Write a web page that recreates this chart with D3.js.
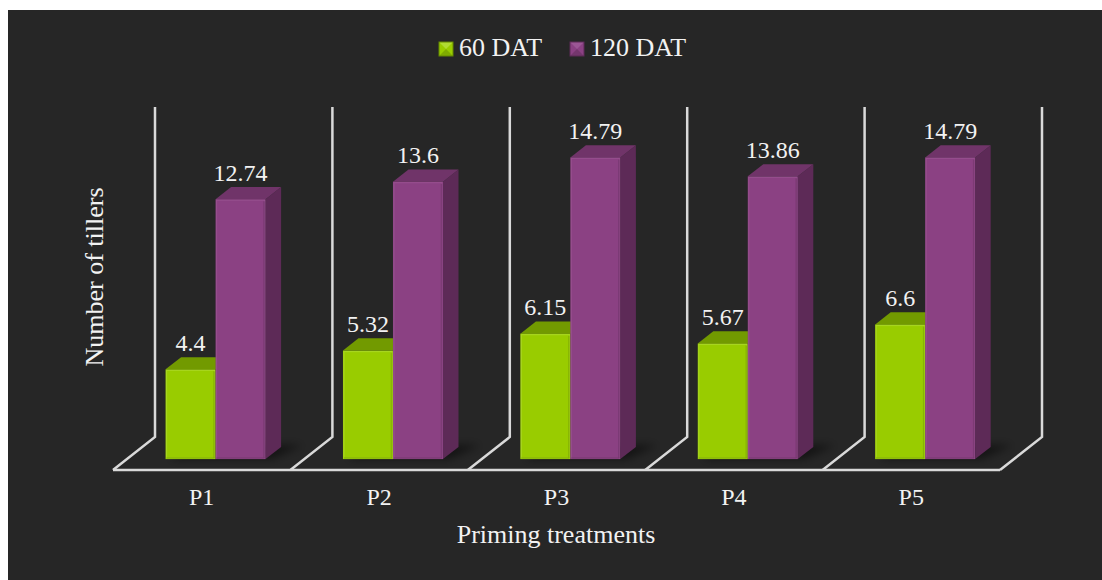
<!DOCTYPE html>
<html>
<head>
<meta charset="utf-8">
<script src="https://cdn.jsdelivr.net/npm/d3@7/dist/d3.min.js"></script>
<style>
  html, body { margin: 0; padding: 0; background: #ffffff; }
  svg { display: block; }
  text { font-family: "Liberation Serif", "Times New Roman", serif; fill: #f2f2f2; }
</style>
</head>
<body>
<svg id="chart" width="1102" height="580"></svg>
<script>
// Number of tillers per priming treatment at two sampling dates
const categories = ["P1", "P2", "P3", "P4", "P5"];
const seriesNames = ["60 DAT", "120 DAT"];
const dat60 = [4.4, 5.32, 6.15, 5.67, 6.6];
const dat120 = [12.74, 13.6, 14.79, 13.86, 14.79];
const yTicks = [0, 4, 8, 12, 16];

const seriesValues = [dat60, dat120];

// face colours per series: front, top, side
const palette = [
  { front: "#99cc00", top: "#729a00", side: "#658800", rim: "#b0dc33", dark: "#7fab00" },
  { front: "#8b4183", top: "#703469", side: "#5d2a57", rim: "#9c5695", dark: "#74366d" }
];

const svg = d3.select("#chart");

// dark panel
svg.append("rect").attr("x", 8).attr("y", 10).attr("width", 1094).attr("height", 570).attr("fill", "#262626");

// floor geometry (front edge of floor and the depth vector to the back wall)
const floorLeft = 113, floorRight = 1000, floorY = 470;
const depth = { dx: 42, dy: -33 };
const wallHeight = 330;
const barFront = 0.33, barBack = 0.70;  // depth fractions occupied by the bars

const x0 = d3.scaleBand().domain(categories).range([floorLeft, floorRight]).padding(0);
const groupW = 100;
const x1 = d3.scaleBand().domain(seriesNames)
  .range([(x0.bandwidth() - groupW) / 2, (x0.bandwidth() + groupW) / 2]).padding(0);
const y = d3.scaleLinear().domain([0, d3.max(yTicks)]).range([0, 326.4]);

const defs = svg.append("defs");
defs.append("filter").attr("id", "soft").attr("x", "-50%").attr("y", "-50%").attr("width", "200%").attr("height", "200%")
  .append("feGaussianBlur").attr("stdDeviation", 4);

// back wall dividers and floor edges
const lineColor = "#d9d9d9";
const walls = svg.append("g").attr("stroke", lineColor).attr("stroke-width", 2.5).attr("fill", "none");
const bounds = categories.map(c => x0(c)).concat([floorRight]);
bounds.forEach(fx => {
  const bx = fx + depth.dx, by = floorY + depth.dy;
  walls.append("path").attr("d", `M${bx},${by - wallHeight}L${bx},${by}L${fx},${floorY}`);
});
walls.append("line").attr("x1", floorLeft).attr("x2", floorRight).attr("y1", floorY).attr("y2", floorY);

// bar footprints helpers
const fdx = depth.dx * barFront, fdy = depth.dy * barFront;
const bdx = depth.dx * barBack, bdy = depth.dy * barBack;
const sdx = bdx - fdx, sdy = bdy - fdy;

// soft shadows on the floor
const shadows = svg.append("g").attr("filter", "url(#soft)");
categories.forEach((c, i) => {
  const left = x0(c) + x1.range()[0] + fdx;
  const right = left + groupW;
  const base = floorY + fdy;
  shadows.append("path")
    .attr("d", `M${left + 4},${base}L${right + 6},${base}L${right + sdx + 22},${base + sdy - 2}L${left + sdx + 10},${base + sdy - 2}Z`)
    .attr("fill", "#000").attr("opacity", 0.5);
});

// bars
const bars = svg.append("g");
categories.forEach((c, i) => {
  seriesNames.forEach((s, k) => {
    const v = seriesValues[k][i];
    const col = palette[k];
    const xl = x0(c) + x1(s) + fdx;
    const w = x1.bandwidth();
    const base = floorY + fdy;
    const top = base - y(v);
    const g = bars.append("g");
    // side face
    g.append("path")
      .attr("d", `M${xl + w},${top}L${xl + w + sdx},${top + sdy}L${xl + w + sdx},${base + sdy}L${xl + w},${base}Z`)
      .attr("fill", col.side);
    // top face
    g.append("path")
      .attr("d", `M${xl},${top}L${xl + sdx},${top + sdy}L${xl + w + sdx},${top + sdy}L${xl + w},${top}Z`)
      .attr("fill", col.top);
    // front face
    g.append("rect").attr("x", xl).attr("y", top).attr("width", w).attr("height", base - top).attr("fill", col.front);
    // bevelled rim
    g.append("rect").attr("x", xl + 1).attr("y", top + 1).attr("width", w - 2).attr("height", base - top - 2)
      .attr("fill", "none").attr("stroke", col.rim).attr("stroke-width", 1.2).attr("opacity", 0.6);
    g.append("line").attr("x1", xl + w - 1.5).attr("x2", xl + w - 1.5).attr("y1", top + 2).attr("y2", base - 1)
      .attr("stroke", col.dark).attr("stroke-width", 1.5).attr("opacity", 0.7);
    g.append("line").attr("x1", xl + 1).attr("x2", xl + w - 1).attr("y1", base - 1).attr("y2", base - 1)
      .attr("stroke", col.dark).attr("stroke-width", 1.5).attr("opacity", 0.7);
    // value label
    svg.append("text")
      .attr("x", xl + w / 2)
      .attr("y", top + sdy - 6)
      .attr("text-anchor", "middle")
      .attr("font-size", 24)
      .text(v);
  });
});

// category axis labels
const xAxis = svg.append("g");
categories.forEach(c => {
  xAxis.append("text")
    .attr("x", x0(c) + x0.bandwidth() / 2)
    .attr("y", 505)
    .attr("text-anchor", "middle")
    .attr("font-size", 24)
    .text(c);
});

// axis titles
svg.append("text")
  .attr("x", 556).attr("y", 543)
  .attr("text-anchor", "middle").attr("font-size", 26)
  .text("Priming treatments");
svg.append("text")
  .attr("transform", "translate(103,277) rotate(-90)")
  .attr("text-anchor", "middle").attr("font-size", 26)
  .text("Number of tillers");

// legend
const legendItems = [{ x: 439, name: seriesNames[0], col: palette[0] }, { x: 570, name: seriesNames[1], col: palette[1] }];
const legend = svg.append("g");
legendItems.forEach(it => {
  const lx = it.x, ly = 42, s = 14;
  legend.append("rect").attr("x", lx).attr("y", ly).attr("width", s).attr("height", s).attr("fill", it.col.front);
  legend.append("path").attr("d", `M${lx},${ly}L${lx + s},${ly}L${lx + s / 2},${ly + s / 2}Z`).attr("fill", it.col.rim);
  legend.append("path").attr("d", `M${lx},${ly + s}L${lx + s},${ly + s}L${lx + s / 2},${ly + s / 2}Z`).attr("fill", it.col.dark);
  legend.append("rect").attr("x", lx).attr("y", ly).attr("width", s).attr("height", s)
    .attr("fill", "none").attr("stroke", it.col.side).attr("stroke-width", 1);
  legend.append("text").attr("x", lx + 20).attr("y", 56).attr("font-size", 26).text(it.name);
});
</script>
</body>
</html>
